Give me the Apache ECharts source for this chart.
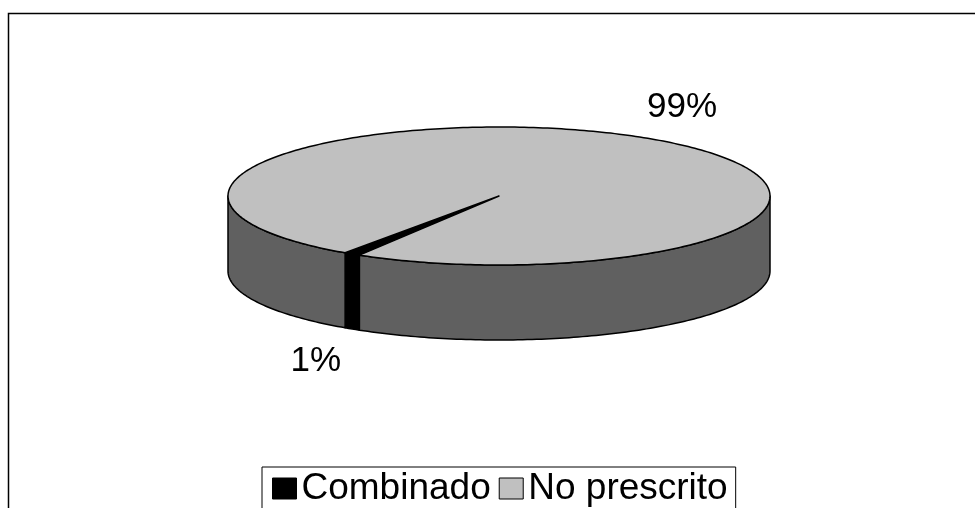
<!DOCTYPE html>
<html>
<head>
<meta charset="utf-8">
<style>
  html, body { margin: 0; padding: 0; background: #fff; }
  #chart { width: 975px; height: 508px; }
</style>
<script src="https://cdn.jsdelivr.net/npm/echarts@6/dist/echarts.min.js"></script>
</head>
<body>
<div id="chart"></div>
<script>
// Categories and their shares (percent)
const categories = ['Combinado', 'No prescrito'];
const values = [1, 99];
const topColors = ['#000000', '#c0c0c0'];
const sideColors = ['#000000', '#606060'];

// 3D pie layout: ellipse centre, radii, wall depth, first slice angle (deg, clockwise from 3 o'clock)
const PIE = { cx: 499, cy: 196, rx: 271, ry: 69, depth: 75, start: 121 };
const FONT = '"Liberation Sans", Arial, sans-serif';

const total = values.reduce((a, b) => a + b, 0);

function pt(deg, dy) {
  const t = deg * Math.PI / 180;
  return [PIE.cx + PIE.rx * Math.cos(t), PIE.cy + PIE.ry * Math.sin(t) + (dy || 0)];
}

function arc(a, b, dy) {
  const pts = [];
  const n = Math.max(2, Math.ceil(Math.abs(b - a)));
  for (let i = 0; i <= n; i++) pts.push(pt(a + (b - a) * i / n, dy));
  return pts;
}

function renderSlice(params, api) {
  const idx = params.seriesIndex;
  const v = api.value(0);
  let before = 0;
  for (let i = 0; i < idx; i++) before += values[i];
  const a = PIE.start + before / total * 360;
  const b = a + v / total * 360;
  const children = [];

  // visible front wall: angles between 0 and 180 (and 360..540 after wrap)
  [[0, 180], [360, 540]].forEach(([lo, hi]) => {
    const s = Math.max(a, lo), e = Math.min(b, hi);
    if (e - s > 0.01) {
      const top = arc(s, e, 0);
      const bottom = arc(e, s, PIE.depth);
      children.push({
        type: 'polygon',
        shape: { points: top.concat(bottom) },
        style: { fill: sideColors[idx], stroke: '#000', lineWidth: 1.5, lineJoin: 'round' }
      });
    }
  });

  // top face
  const topPts = [[PIE.cx, PIE.cy]].concat(arc(a, b, 0));
  children.push({
    type: 'polygon',
    shape: { points: topPts },
    style: { fill: topColors[idx], stroke: '#000', lineWidth: 1.5, lineJoin: 'round' }
  });

  // percentage label outside the slice
  const mid = (a + b) / 2 * Math.PI / 180;
  const c = Math.cos(mid), s = Math.sin(mid);
  const lx = PIE.cx + (PIE.rx + 67) * c;
  const ly = PIE.cy + (PIE.ry + 36) * s + (s > 0 ? PIE.depth + 2 : 0);
  children.push({
    type: 'text',
    style: {
      x: lx, y: ly, text: Math.round(v / total * 100) + '%',
      fill: '#000', font: '35px ' + FONT, align: 'center', verticalAlign: 'middle'
    }
  });

  return { type: 'group', children };
}

const chart = echarts.init(document.getElementById('chart'), null, { renderer: 'canvas' });

chart.setOption({
  animation: false,
  backgroundColor: '#fff',
  graphic: [{
    type: 'rect',
    shape: { x: 8.5, y: 13.5, width: 1000, height: 600 },
    style: { fill: 'none', stroke: '#000', lineWidth: 1.5 },
    silent: true
  }],
  legend: {
    left: 262,
    top: 467,
    padding: [3, 8, 3, 10],
    itemGap: 8,
    itemWidth: 24,
    itemHeight: 21,
    borderColor: '#000',
    borderWidth: 1,
    backgroundColor: '#fff',
    icon: 'rect',
    textStyle: { fontSize: 37, lineHeight: 33, fontFamily: FONT, color: '#000' },
    data: categories.map((name, i) => ({
      name,
      itemStyle: { color: topColors[i], borderColor: '#000', borderWidth: 1 }
    }))
  },
  series: categories.map((name, i) => ({
    type: 'custom',
    name,
    coordinateSystem: 'none',
    itemStyle: { color: topColors[i] },
    renderItem: renderSlice,
    data: [[values[i]]]
  }))
});
</script>
</body>
</html>
